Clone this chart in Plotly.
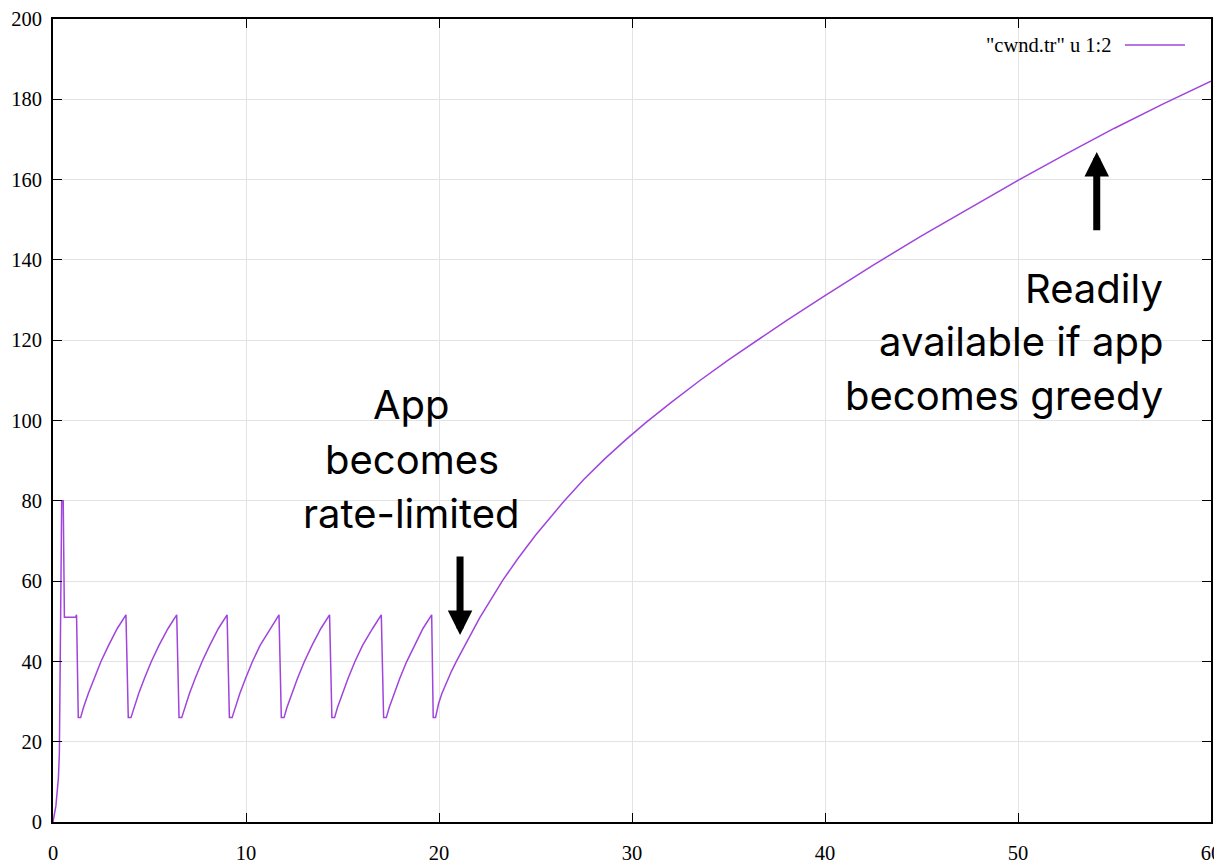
import plotly.graph_objects as go

# ---- data ----
time_s = [
    0, 0.15, 0.28, 0.33, 0.45, 0.53, 0.59, 1.17, 1.22, 1.31, 1.43,
    1.58, 1.83, 2.13, 2.48, 2.88, 3.33, 3.78, 3.90, 4.04,
    4.19, 4.44, 4.74, 5.09, 5.49, 5.96, 6.41, 6.53, 6.67,
    6.82, 7.07, 7.37, 7.72, 8.12, 8.57, 9.02, 9.14, 9.28,
    9.43, 9.68, 9.98, 10.33, 10.73, 11.26, 11.71, 11.83, 11.97,
    12.12, 12.37, 12.67, 13.02, 13.42, 13.88, 14.33, 14.45, 14.59,
    14.74, 14.99, 15.29, 15.64, 16.04, 16.56, 17.01, 17.13, 17.27,
    17.42, 17.67, 17.97, 18.32, 18.72, 19.17, 19.62, 19.70, 19.82,
    19.88, 19.98, 20.15, 20.4, 20.65, 20.9, 21.5, 22.1, 23.3, 24.1, 25.0, 25.8,
    26.44, 27.5, 28.6, 29.7, 30.7, 32.0, 33.5, 35.0, 36.2, 38.0, 40.0, 42.5,
    45.0, 47.5, 50.0, 52.5, 55.0, 57.5, 60.0,
]
cwnd = [
    0, 4, 11, 17, 80, 80, 51, 51, 51.6, 26, 26,
    28.5, 32.0, 35.8, 39.9, 44.0, 48.2, 51.6, 26, 26,
    28.5, 32.0, 35.8, 39.9, 44.0, 48.2, 51.6, 26, 26,
    28.5, 32.0, 35.8, 39.9, 44.0, 48.2, 51.6, 26, 26,
    28.5, 32.0, 35.8, 39.9, 44.0, 48.2, 51.6, 26, 26,
    28.5, 32.0, 35.8, 39.9, 44.0, 48.2, 51.6, 26, 26,
    28.5, 32.0, 35.8, 39.9, 44.0, 48.2, 51.6, 26, 26,
    28.5, 32.0, 35.8, 39.9, 44.0, 48.2, 51.6, 26, 26,
    27.5, 29.5, 32.0, 35.0, 37.6, 40.0, 45.6, 50.8, 60.2, 65.7, 71.4, 76.1,
    79.7, 85.3, 90.5, 95.3, 99.4, 104.4, 109.9, 115.1, 119.1, 124.9, 131.1, 138.7,
    146.0, 153.0, 159.8, 166.4, 172.8, 178.8, 184.5,
]
x_ticks = [0, 10, 20, 30, 40, 50, 60]
y_ticks = [0, 20, 40, 60, 80, 100, 120, 140, 160, 180, 200]
legend_label = '"cwnd.tr" u 1:2'
note_left = ["App", "becomes", "rate-limited"]
note_right = ["Readily", "available if app", "becomes greedy"]

LINE = "#a044dc"
SERIF = "Liberation Serif, Times New Roman, serif"
SANS = "Inter, Noto Sans, sans-serif"

fig = go.Figure()
fig.add_trace(go.Scatter(x=time_s, y=cwnd, mode="lines",
                         line=dict(color=LINE, width=1.5), showlegend=False,
                         name=legend_label))

axis_common = dict(
    showgrid=True, gridcolor="#e3e3e3", gridwidth=1,
    showline=True, linecolor="black", linewidth=1.6, mirror="allticks",
    ticks="inside", ticklen=9, tickwidth=1.4, tickcolor="black",
    zeroline=False, automargin=False,
    tickfont=dict(family=SERIF, size=20.5, color="black"),
)
fig.update_xaxes(range=[0, 60], tickvals=x_ticks, ticklabelstandoff=12, **axis_common)
fig.update_yaxes(range=[0, 200], tickvals=y_ticks, ticklabelstandoff=5, **axis_common)

annotations = []
left_y = [103.9, 90.3, 76.8]
for txt, yy in zip(note_left, left_y):
    annotations.append(dict(x=18.6, y=yy, xref="x", yref="y", text=txt, showarrow=False,
                            xanchor="center", yanchor="middle",
                            font=dict(family=SANS, size=40, color="black")))
right_y = [132.9, 119.7, 106.3]
for txt, yy in zip(note_right, right_y):
    annotations.append(dict(x=57.6, y=yy, xref="x", yref="y", text=txt, showarrow=False,
                            xanchor="right", yanchor="middle",
                            font=dict(family=SANS, size=40, color="black")))
# arrows
annotations.append(dict(x=21.09, y=46.6, ax=21.09, ay=66.5, xref="x", yref="y",
                        axref="x", ayref="y", text="", showarrow=True,
                        arrowhead=2, arrowsize=0.7, arrowwidth=7, arrowcolor="black", standoff=0))
annotations.append(dict(x=54.08, y=166.9, ax=54.08, ay=147.0, xref="x", yref="y",
                        axref="x", ayref="y", text="", showarrow=True,
                        arrowhead=2, arrowsize=0.7, arrowwidth=7, arrowcolor="black", standoff=0))
# gnuplot-like legend (text left of the line sample)
annotations.append(dict(x=0.9154, y=0.9676, xref="paper", yref="paper", text=legend_label,
                        showarrow=False, xanchor="right", yanchor="middle",
                        font=dict(family=SERIF, size=20.5, color="black")))

# the page body adds an 8px offset, so the figure is 8px smaller and margins shifted
fig.update_layout(
    width=1214, height=856,
    margin=dict(l=45, r=11, t=11, b=42),
    paper_bgcolor="white", plot_bgcolor="white",
    annotations=annotations,
    shapes=[dict(type="line", xref="paper", yref="paper", x0=0.9257, x1=0.9775,
                 y0=0.9676, y1=0.9676, line=dict(color=LINE, width=1.5))],
)

fig.write_html("out.html")
